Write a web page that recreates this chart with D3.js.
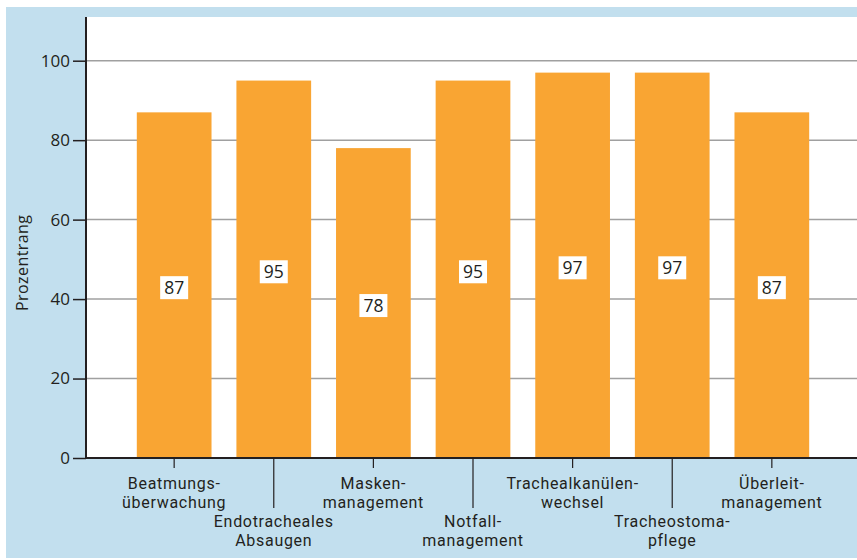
<!DOCTYPE html>
<html>
<head>
<meta charset="utf-8">
<script src="https://cdn.jsdelivr.net/npm/d3@7"></script>
<style>
  body { margin: 0; background: #fff; }
  text { font-family: "Open Sans", "Noto Sans", sans-serif; fill: #231f20; }
  text.xlabel { font-family: Roboto, "Open Sans", sans-serif; letter-spacing: 0.7px; }
</style>
</head>
<body>
<div id="chart"></div>
<script>
const w = 857;
const h = 560;
// plot box inside the blue frame
const plotLeft = 86, plotRight = 857, plotTop = 17, plotBottom = 458;

const categories = ["Beatmungs-\nüberwachung", "Endotracheales\nAbsaugen", "Masken-\nmanagement",
  "Notfall-\nmanagement", "Trachealkanülen-\nwechsel", "Tracheostoma-\npflege", "Überleit-\nmanagement"];
const values = [87, 95, 78, 95, 97, 97, 87];
const yTicks = [0, 20, 40, 60, 80, 100];

let svg = d3.select("#chart")
  .append("svg")
  .attr("width", w)
  .attr("height", h);

// blue frame
svg.append("rect")
  .attr("x", 6).attr("y", 7)
  .attr("width", w - 6).attr("height", h - 9)
  .attr("fill", "#c2dfee");

svg.append("rect")
  .attr("x", plotLeft).attr("y", plotTop)
  .attr("width", plotRight - plotLeft).attr("height", plotBottom - plotTop)
  .attr("fill", "#fff");

var y = d3.scaleLinear()
  .domain([0, 111])
  .range([plotBottom, plotTop]);

var x = d3.scaleBand()
  .domain(d3.range(categories.length))
  .range([plotLeft + 1, plotRight + 2])
  .paddingInner(0.25)
  .paddingOuter(0.5);

// gridlines
svg.append("g")
  .selectAll("line")
  .data(yTicks.filter(d => d > 0))
  .join("line")
  .attr("x1", plotLeft).attr("x2", plotRight)
  .attr("y1", d => y(d)).attr("y2", d => y(d))
  .attr("stroke", "#a0a0a0")
  .attr("stroke-width", 1.5);

// bars
svg.append("g")
  .selectAll("rect")
  .data(values)
  .join("rect")
  .attr("x", (d, i) => x(i))
  .attr("y", d => y(d))
  .attr("width", x.bandwidth())
  .attr("height", d => plotBottom - y(d))
  .attr("fill", "#f9a533");

// value boxes in the middle of each bar
let boxes = svg.append("g")
  .selectAll("g")
  .data(values)
  .join("g")
  .attr("transform", (d, i) => "translate(" + (x(i) + x.bandwidth() / 2) + "," + ((y(d) + plotBottom) / 2 + 2.5) + ")");

boxes.append("rect")
  .attr("x", -14).attr("y", -11.5)
  .attr("width", 28).attr("height", 23)
  .attr("fill", "#fff");

boxes.append("text")
  .attr("text-anchor", "middle")
  .attr("dy", "0.36em")
  .style("font-size", "17.5px")
  .text(d => d);

// y axis
let yAxis = svg.append("g")
  .attr("transform", "translate(" + plotLeft + ",0)")
  .call(d3.axisLeft(y).tickValues(yTicks).tickSize(13).tickPadding(3));
yAxis.select(".domain").remove();
yAxis.selectAll(".tick line").attr("stroke", "#231f20").attr("stroke-width", 1.5);
yAxis.selectAll(".tick text").style("font-size", "17px").attr("fill", "#231f20");

svg.append("line")
  .attr("x1", plotLeft).attr("x2", plotLeft)
  .attr("y1", plotTop).attr("y2", plotBottom)
  .attr("stroke", "#231f20").attr("stroke-width", 2);

// x axis line
svg.append("line")
  .attr("x1", plotLeft).attr("x2", plotRight)
  .attr("y1", plotBottom).attr("y2", plotBottom)
  .attr("stroke", "#231f20").attr("stroke-width", 2);

// category ticks, alternating short / long
svg.append("g")
  .selectAll("line")
  .data(categories)
  .join("line")
  .attr("x1", (d, i) => x(i) + x.bandwidth() / 2)
  .attr("x2", (d, i) => x(i) + x.bandwidth() / 2)
  .attr("y1", plotBottom)
  .attr("y2", (d, i) => i % 2 ? plotBottom + 50 : plotBottom + 10)
  .attr("stroke", "#231f20")
  .attr("stroke-width", 1.2);

// category labels, one text per line
categories.forEach(function(c, i) {
  c.split("\n").forEach(function(line, j) {
    svg.append("text")
      .attr("class", "xlabel")
      .attr("text-anchor", "middle")
      .attr("x", x(i) + x.bandwidth() / 2)
      .attr("y", (i % 2 ? plotBottom + 69 : plotBottom + 31) + j * 19)
      .style("font-size", "16px")
      .text(line);
  });
});

// y label
svg.append("text")
  .attr("text-anchor", "middle")
  .attr("transform", "translate(28,263) rotate(-90)")
  .attr("textLength", 96)
  .attr("lengthAdjust", "spacing")
  .style("font-size", "16px")
  .text("Prozentrang");
</script>
</body>
</html>
